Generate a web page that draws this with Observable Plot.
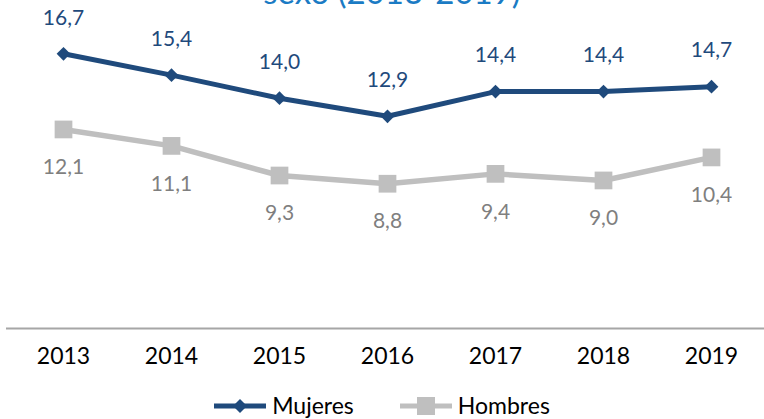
<!DOCTYPE html>
<html>
<head>
<meta charset="utf-8">
<script src="https://cdn.jsdelivr.net/npm/d3@7"></script>
<script src="https://cdn.jsdelivr.net/npm/@observablehq/plot@0.6"></script>
<style>
  html, body { margin: 0; padding: 0; background: #fff; }
  body { width: 764px; height: 419px; overflow: hidden; position: relative; font-family: Lato, "Open Sans", sans-serif; }
  #title { position: absolute; left: 0; width: 784px; top: -29px; text-align: center; color: #1B7BC4; font-size: 33px; white-space: nowrap; }
  #chart { position: absolute; left: 0; top: 0; }
  #legend { position: absolute; left: 0; top: 394px; width: 764px; display: flex; justify-content: center; align-items: center; font-size: 23px; line-height: 1; color: #000; }
  .item { display: flex; align-items: center; margin: 0 23px; }
  .item svg { margin-right: 6px; }
</style>
</head>
<body>
<div id="title">sexo (2013-2019)</div>
<div id="chart"></div>
<div id="legend"></div>
<script>
const years = ["2013", "2014", "2015", "2016", "2017", "2018", "2019"];
const mujeres = [16.7, 15.4, 14.0, 12.9, 14.4, 14.4, 14.7];
const hombres = [12.1, 11.1, 9.3, 8.8, 9.4, 9.0, 10.4];
const seriesNames = ["Mujeres", "Hombres"];

const navy = "#1F4A7C";
const lightGray = "#BFBFBF";
const labelGray = "#7F7F7F";

const mData = years.map((y, i) => ({year: y, value: mujeres[i]}));
const hData = years.map((y, i) => ({year: y, value: hombres[i]}));
const fmt = v => v.toFixed(1).replace(".", ",");

const chart = Plot.plot({
  width: 764,
  height: 385,
  marginLeft: 6,
  marginRight: -3,
  marginTop: -1,
  marginBottom: 57,
  style: {fontFamily: "Lato, 'Open Sans', sans-serif", background: "transparent"},
  x: {type: "band", domain: years, padding: 0, label: null},
  y: {domain: [0, 20], axis: null},
  marks: [
    Plot.ruleY([0], {stroke: "#A6A6A6", strokeWidth: 2}),
    Plot.axisX({tickSize: 0, tickPadding: 19, fontSize: 23, fill: "#000", label: null}),
    Plot.line(hData, {x: "year", y: "value", stroke: lightGray, strokeWidth: 5.5}),
    Plot.dot(hData, {x: "year", y: "value", symbol: "square", r: 10, fill: lightGray, stroke: "none"}),
    Plot.text(hData, {x: "year", y: "value", text: d => fmt(d.value), dy: 38, fontSize: 21, fill: labelGray}),
    Plot.line(mData, {x: "year", y: "value", stroke: navy, strokeWidth: 5}),
    Plot.dot(mData, {x: "year", y: "value", symbol: "diamond2", r: 6.2, fill: navy, stroke: "none"}),
    Plot.text(mData, {x: "year", y: "value", text: d => fmt(d.value), dy: -36, fontSize: 21, fill: navy})
  ]
});
document.getElementById("chart").appendChild(chart);

// Legend
const legend = document.getElementById("legend");
const swatches = [
  {name: seriesNames[0], color: navy, sym: "diamond"},
  {name: seriesNames[1], color: lightGray, sym: "square"}
];
swatches.forEach(s => {
  const item = document.createElement("div");
  item.className = "item";
  const ns = "http://www.w3.org/2000/svg";
  const svg = document.createElementNS(ns, "svg");
  svg.setAttribute("width", 52);
  svg.setAttribute("height", 20);
  const line = document.createElementNS(ns, "line");
  line.setAttribute("x1", 0); line.setAttribute("x2", 52);
  line.setAttribute("y1", 10); line.setAttribute("y2", 10);
  line.setAttribute("stroke", s.color); line.setAttribute("stroke-width", 5);
  svg.appendChild(line);
  if (s.sym === "diamond") {
    const p = document.createElementNS(ns, "path");
    p.setAttribute("d", "M26,3 L33,10 L26,17 L19,10 Z");
    p.setAttribute("fill", s.color);
    svg.appendChild(p);
  } else {
    const r = document.createElementNS(ns, "rect");
    r.setAttribute("x", 17); r.setAttribute("y", 1);
    r.setAttribute("width", 18); r.setAttribute("height", 18);
    r.setAttribute("fill", s.color);
    svg.appendChild(r);
  }
  item.appendChild(svg);
  const label = document.createElement("span");
  label.textContent = s.name;
  item.appendChild(label);
  legend.appendChild(item);
});
</script>
</body>
</html>
